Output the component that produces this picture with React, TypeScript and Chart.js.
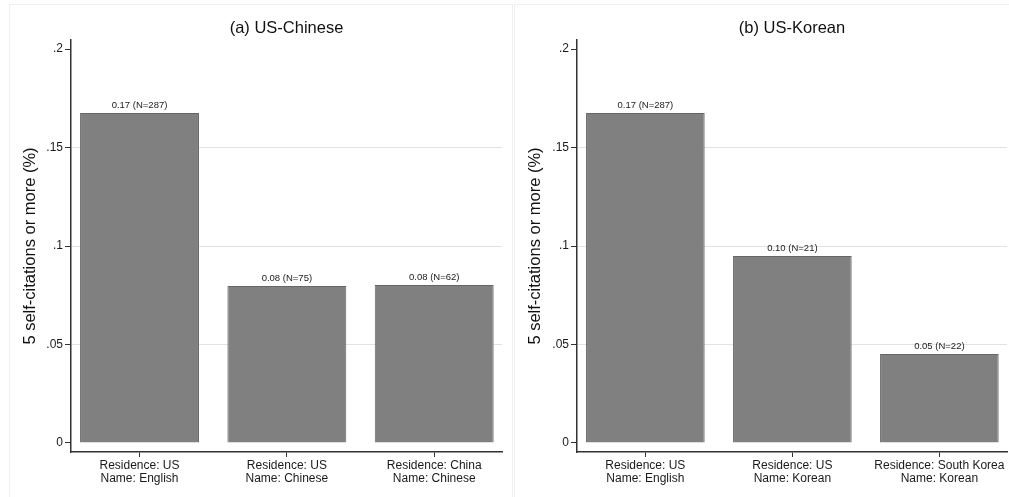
import React, { useEffect, useRef } from "react";
import { Chart, registerables } from "chart.js";

Chart.register(...registerables);

// ---- data ----
const categoriesA: string[][] = [
  ["Residence: US", "Name: English"],
  ["Residence: US", "Name: Chinese"],
  ["Residence: China", "Name: Chinese"],
];
const valuesA: number[] = [0.1675, 0.0797, 0.0802];
const barLabelsA: string[] = ["0.17 (N=287)", "0.08 (N=75)", "0.08 (N=62)"];

const categoriesB: string[][] = [
  ["Residence: US", "Name: English"],
  ["Residence: US", "Name: Korean"],
  ["Residence: South Korea", "Name: Korean"],
];
const valuesB: number[] = [0.1675, 0.0949, 0.0452];
const barLabelsB: string[] = ["0.17 (N=287)", "0.10 (N=21)", "0.05 (N=22)"];

const yTickValues: number[] = [0, 0.05, 0.1, 0.15, 0.2];
const yTickLabels: string[] = ["0", ".05", ".1", ".15", ".2"];
const gridValues: number[] = [0.05, 0.1, 0.15];

const titleA = "(a) US-Chinese";
const titleB = "(b) US-Korean";
const yTitle = "5 self-citations or more (%)";

const FONT = "Arial, 'Liberation Sans', sans-serif";

const barLabelPlugin = {
  id: "barLabels",
  afterDatasetsDraw(chart: any) {
    const labels: string[] = chart.options.plugins.barLabels.labels;
    const ctx = chart.ctx;
    const meta = chart.getDatasetMeta(0);
    ctx.save();
    ctx.font = `9.5px ${FONT}`;
    ctx.fillStyle = "#1a1a1a";
    ctx.textAlign = "center";
    ctx.textBaseline = "bottom";
    meta.data.forEach((el: any, i: number) => {
      ctx.fillText(labels[i], el.x, el.y - 3);
    });
    ctx.restore();
  },
};

function Panel(props: {
  title: string;
  categories: string[][];
  values: number[];
  barLabels: string[];
  width: number;
  height: number;
  yWidth: number;
  rightPad: number;
}) {
  const ref = useRef<HTMLCanvasElement>(null);
  useEffect(() => {
    if (!ref.current) return;
    const chart = new Chart(ref.current, {
      type: "bar",
      data: {
        datasets: [
          {
            data: props.values.map((v, i) => ({ x: i + 1, y: v })),
            backgroundColor: "#808080",
            borderColor: "#666666",
            borderWidth: 1,
            barPercentage: 0.807,
            categoryPercentage: 1,
          },
        ],
      },
      plugins: [barLabelPlugin],
      options: {
        animation: false,
        responsive: false,
        devicePixelRatio: 1,
        layout: { padding: { left: 0, right: props.rightPad, top: 0, bottom: 0 } },
        plugins: {
          legend: { display: false },
          tooltip: { enabled: false },
          title: {
            display: true,
            text: props.title,
            fullSize: false,
            color: "#111",
            font: { family: FONT, size: 16.5, weight: "normal" },
            padding: { top: 14, bottom: 1.2 },
          },
          barLabels: { labels: props.barLabels },
        } as any,
        scales: {
          x: {
            type: "linear",
            offset: false,
            min: 0.535,
            max: 3.46,
            afterBuildTicks: (scale: any) => {
              scale.ticks = props.categories.map((_, i) => ({ value: i + 1 }));
            },
            afterFit: (scale: any) => {
              scale.height = 45;
            },
            ticks: {
              autoSkip: false,
              maxRotation: 0,
              minRotation: 0,
              padding: 2,
              color: "#1a1a1a",
              font: { family: FONT, size: 12, lineHeight: 1.1 },
              callback: (v: any) => props.categories[Math.round(Number(v)) - 1],
            },
            grid: {
              offset: false,
              drawOnChartArea: false,
              drawTicks: true,
              tickLength: 5,
              tickColor: "#333",
            },
            border: { display: true, color: "#333", width: 1.5 },
          },
          y: {
            type: "linear",
            min: -0.0046,
            max: 0.2046,
            afterBuildTicks: (scale: any) => {
              scale.ticks = yTickValues.map((v) => ({ value: v }));
            },
            afterFit: (scale: any) => {
              scale.width = props.yWidth;
            },
            ticks: {
              padding: 2,
              color: "#1a1a1a",
              font: { family: FONT, size: 12 },
              callback: (v: any) => {
                const idx = yTickValues.findIndex((t) => Math.abs(t - Number(v)) < 1e-9);
                return idx >= 0 ? yTickLabels[idx] : "";
              },
            },
            grid: {
              drawOnChartArea: true,
              drawTicks: true,
              tickLength: 6,
              tickColor: "#333",
              lineWidth: 1,
              color: (ctx: any) => {
                const v = ctx.tick ? ctx.tick.value : null;
                return v !== null && gridValues.some((g) => Math.abs(g - v) < 1e-9)
                  ? "#e2e2e2"
                  : "rgba(0,0,0,0)";
              },
            },
            border: { display: true, color: "#333", width: 1.5 },
            title: {
              display: true,
              text: yTitle,
              color: "#111",
              font: { family: FONT, size: 16.5 },
              padding: { top: 11, bottom: 0 },
            },
          },
        },
      } as any,
    });
    return () => chart.destroy();
  }, []);
  return <canvas ref={ref} width={props.width} height={props.height} style={{ display: "block" }} />;
}

export default function App() {
  useEffect(() => {
    document.body.style.overflow = "hidden";
  }, []);
  return (
    <div
      style={{
        position: "absolute",
        left: 0,
        top: 0,
        width: 1009,
        height: 497,
        background: "#fff",
        overflow: "hidden",
      }}
    >
      <div
        style={{
          position: "absolute",
          left: 9,
          top: 4,
          width: 504,
          height: 500,
          border: "1px solid #efefef",
          boxSizing: "border-box",
        }}
      />
      <div
        style={{
          position: "absolute",
          left: 514,
          top: 4,
          width: 500,
          height: 500,
          border: "1px solid #efefef",
          boxSizing: "border-box",
        }}
      />
      <div style={{ position: "absolute", left: 10, top: 5 }}>
        <Panel
          title={titleA}
          categories={categoriesA}
          values={valuesA}
          barLabels={barLabelsA}
          width={503}
          height={492}
          yWidth={61}
          rightPad={11}
        />
      </div>
      <div style={{ position: "absolute", left: 515, top: 5 }}>
        <Panel
          title={titleB}
          categories={categoriesB}
          values={valuesB}
          barLabels={barLabelsB}
          width={494}
          height={492}
          yWidth={62}
          rightPad={2}
        />
      </div>
    </div>
  );
}
